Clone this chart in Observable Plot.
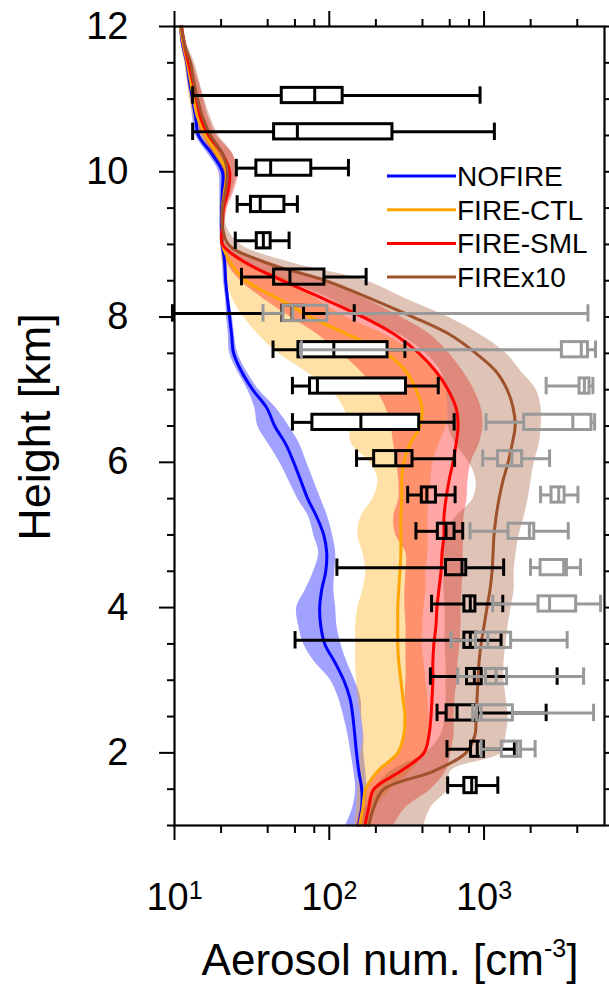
<!DOCTYPE html>
<html><head><meta charset="utf-8">
<script src="https://cdn.jsdelivr.net/npm/d3@7"></script>
<script src="https://cdn.jsdelivr.net/npm/@observablehq/plot@0.6"></script>
<style>body{margin:0;background:#fff;}</style>
</head><body><div id="chart"></div>
<script>
// ---------- data ----------
const heights = [1,1.25,1.5,1.75,2,2.25,2.5,2.75,3,3.25,3.5,3.75,4,4.25,4.5,4.75,5,5.25,5.5,5.75,6,6.25,6.5,6.75,7,7.25,7.5,7.75,8,8.25,8.5,8.75,9,9.25,9.5,9.75,10,10.25,10.5,10.75,11,11.25,11.5,11.75,12];

const nofireMean = [155,162,162,155,150,146,142,136,124,108.5,93.5,88.1,86.7,89.4,94.9,96.3,92.1,82.9,72.5,65.4,58.9,52.3,44.4,39.4,32.0,27.1,24.1,23.4,22.7,22.0,21.4,21.1,20.4,20.2,20.2,20.4,20.4,17.4,14.3,13.7,13.1,12.5,12.0,11.3,10.9];
const nofireLo   = [128,142,148,144,138,132,124,115,102,80.5,68.3,63.4,61.6,70.4,79.3,85.4,79.3,73.6,62.5,54.7,47.8,40.6,34.5,33.0,29.7,25.6,22.7,22.3,21.7,21.4,20.7,20.4,19.9,19.6,19.6,19.6,19.3,16.4,13.7,13.1,12.7,12.1,11.8,11.1,10.8];
const nofireHi   = [162,172,175,172,167,167,162,160,146,130,119,112,110,107,108.5,110,105,97.8,88.1,79.3,71.4,64.4,54.7,45.1,35.0,29.3,25.6,24.4,23.7,22.7,22.0,21.7,21.1,20.7,20.7,21.4,21.7,18.4,15.2,14.3,13.5,12.9,12.3,11.4,11.1];

const ctlMean = [157,165,172,206,277,303,308,299,290,281,277,277,277,281,286,290,290,290,294,294,303,332,386,397,363,313,232,134,75.9,47.1,28.8,23.0,20.4,20.4,20.4,21.1,21.7,18.7,15.9,14.1,13.3,12.7,12.1,11.4,10.9];
const ctlLo   = [146,150,153,155,160,165,160,153,150,148,148,148,153,165,172,165,153,160,191,206,183,140,134,124,102,70.4,47.1,35.0,28.0,23.7,21.7,20.4,19.9,19.9,19.9,20.2,20.4,17.4,14.7,13.3,12.5,12.1,11.6,11.1,10.8];
const ctlHi   = [186,200,250,337,415,441,441,434,421,409,397,403,409,421,421,434,434,434,441,454,467,511,568,585,568,489,363,232,128,82.9,56.3,28.8,21.4,21.1,21.4,22.3,23.0,20.4,17.1,15.2,14.1,13.5,12.7,11.8,11.3];

const smlMean = [170,180,194,290,409,441,454,461,467,467,474,489,496,511,527,535,551,551,568,594,630,659,679,659,585,489,380,269,165,92.1,50.0,28.8,20.4,20.4,20.7,22.3,22.7,20.4,16.6,14.7,13.9,13.1,12.3,11.6,11.1];
const smlLo   = [150,160,172,215,281,303,308,308,313,313,313,313,308,308,313,313,269,261,281,281,273,261,250,232,200,160,119,85.4,56.3,37.7,26.7,21.7,19.9,19.9,19.9,21.1,20.4,17.6,15.2,13.7,12.9,12.3,11.8,11.1,10.8];
const smlHi   = [261,313,454,568,611,640,640,649,669,679,699,710,710,720,731,731,742,742,776,788,824,928,985,957,861,731,594,454,290,172,88.1,41.8,21.4,21.1,22.0,24.4,25.9,23.7,18.7,16.6,15.4,14.3,13.1,12.0,11.3];

const x10Mean = [180,194,225,474,764,874,887,901,914,928,957,1000,1045,1093,1126,1143,1160,1196,1250,1327,1430,1518,1588,1541,1409,1196,887,611,348,186,94.9,38.8,22.3,20.4,20.4,21.4,22.0,20.4,17.1,15.2,14.1,13.3,12.7,11.6,11.1];
const x10Lo   = [160,172,194,250,421,527,560,568,568,568,560,560,560,551,551,543,551,659,849,887,800,659,585,585,568,527,421,290,160,102,52.3,26.7,20.4,19.9,19.9,20.4,20.4,17.9,15.4,14.0,13.1,12.5,12.0,11.3,10.9];
const x10Hi   = [409,454,585,611,1288,1388,1430,1388,1347,1347,1388,1430,1496,1564,1564,1611,1685,1815,1927,2014,2107,2270,2338,2338,2170,1735,1388,957,585,314,172,56.3,26.7,21.7,21.7,23.7,25.2,23.7,19.3,17.1,15.6,14.5,13.5,12.1,11.4];

const seriesNames = ["NOFIRE","FIRE-CTL","FIRE-SML","FIREx10"];

// black box plots
const blackHeights = [11.05,10.55,10.05,9.55,9.05,8.55,8.05,7.55,7.05,6.55,6.05,5.55,5.05,4.55,4.05,3.55,3.05,2.55,2.05,1.55];
const blackMin = [13.1,13.1,25.1,25.4,24.7,27.1,9.7,43.3,57.8,57.8,150,321,363,112,458,60.1,450,497,576,582];
const blackQ1  = [49.3,44,33.8,31.2,34,44,49.8,63.2,75.1,77.8,195,396,503,568,746,746,776,573,824,746];
const blackMed = [80.5,62.2,41.8,35.8,37.5,55.7,57.5,107,83.8,160,269,427,568,720,815,815,866,669,904,832];
const blackQ3  = [122,256,76.5,51.3,41.8,93,68.7,238,313,381,345,489,645,767,879,887,966,910,998,897];
const blackMax = [942,1166,133,62.2,55,173,145,308,506,641,645,650,728,1338,1321,1288,2966,2518,1571,1227];
const blackFilledHeights = [7.55,7.05,6.55];

// gray box plots
const grayHeights = [8.05,7.55,7.05,6.55,6.05,5.55,5.05,4.55,4.05,3.55,3.05,2.55,2.05];
const grayMin = [37.3,66,2518,1030,980,2318,812,1995,1138,611,676,845,957];
const grayQ1  = [50.5,3183,4140,1817,1230,2728,1438,2318,2248,887,1030,901,1302];
const grayMed = [58,4245,4450,3745,1513,3036,1962,3270,2650,1057,1196,957,1636];
const grayQ3  = [97.3,4690,4800,4945,1761,3312,2110,3430,3936,1496,1409,1535,1735];
const grayMax = [4690,5250,5050,5180,2650,4040,3500,4200,5662,3444,4395,5100,2138];

// ticks
const xMajor = [10,100,1000];
const xMinor = [20,40,60,80,200,400,600,800,2000,4000];
const yMajor = [2,4,6,8,10,12];
const yMinor = [1,1.5,2.5,3,3.5,4.5,5,5.5,6.5,7,7.5,8.5,9,9.5,10.5,11,11.5];

// ---------- build ----------
const seriesColors = ["#0000ff","#ffa500","#ff0000","#a0522d"];
const bandOpac = [0.37,0.35,0.35,0.35];
const means = [nofireMean, ctlMean, smlMean, x10Mean];
const los = [nofireLo, ctlLo, smlLo, x10Lo];
const his = [nofireHi, ctlHi, smlHi, x10Hi];
const profiles = seriesNames.map((name,i)=>heights.map((h,j)=>({name, h, mean: means[i][j], lo: los[i][j], hi: his[i][j]})));

const black = blackHeights.map((h,i)=>({h, min: blackMin[i], q1: blackQ1[i], med: blackMed[i], q3: blackQ3[i], max: blackMax[i]}));
const gray = grayHeights.map((h,i)=>({h, min: grayMin[i], q1: grayQ1[i], med: grayMed[i], q3: grayQ3[i], max: grayMax[i]}));

const BH = 0.105, CH = 0.12, BW = 3;
function boxMarks(data, color, filledHs) {
  const marks = [];
  if (filledHs) marks.push(Plot.rect(data.filter(d=>filledHs.includes(d.h)), {x1:"q1", x2:"q3", y1:d=>d.h-BH, y2:d=>d.h+BH, fill:"white"}));
  marks.push(
    Plot.ruleY(data, {y:"h", x1:"min", x2:"q1", stroke:color, strokeWidth:BW}),
    Plot.ruleY(data, {y:"h", x1:"q3", x2:"max", stroke:color, strokeWidth:BW}),
    Plot.rect(data, {x1:"q1", x2:"q3", y1:d=>d.h-BH, y2:d=>d.h+BH, fill:"none", stroke:color, strokeWidth:BW}),
    Plot.ruleX(data, {x:"med", y1:d=>d.h-BH, y2:d=>d.h+BH, stroke:color, strokeWidth:BW}),
    Plot.ruleX(data, {x:"min", y1:d=>d.h-CH, y2:d=>d.h+CH, stroke:color, strokeWidth:BW}),
    Plot.ruleX(data, {x:"max", y1:d=>d.h-CH, y2:d=>d.h+CH, stroke:color, strokeWidth:BW})
  );
  return marks;
}

const blank = () => "";

const plot = Plot.plot({
  width: 609, height: 984,
  marginLeft: 174, marginRight: 5, marginTop: 26, marginBottom: 159,
  style: {fontFamily: "'Liberation Sans', Arial, Helvetica, sans-serif", color: "black", background: "white"},
  x: {type: "log", domain: [10, 6000]},
  y: {domain: [1, 12]},
  marks: [
    ...profiles.map((p,i)=>Plot.areaX(p, {y:"h", x1:"lo", x2:"hi", fill: seriesColors[i], fillOpacity: bandOpac[i], curve:"catmull-rom"})),
    ...profiles.map((p,i)=>Plot.lineX(p, {y:"h", x:"mean", stroke: seriesColors[i], strokeWidth: 3, curve:"catmull-rom"})),
    ...boxMarks(black, "black", blackFilledHeights),
    ...boxMarks(gray, "#999999", null),
    Plot.axisX(xMajor, {anchor:"bottom", tickSize:15, tickPadding:43, strokeWidth:2, fontSize:38, label:null,
      tickFormat: d => "10|" + Math.round(Math.log10(d))}),
    Plot.axisX(xMinor, {anchor:"bottom", tickSize:8, strokeWidth:2, tickFormat: blank, label:null}),
    Plot.axisX(xMajor, {anchor:"top", tickSize:16, strokeWidth:2, tickFormat: blank, label:null}),
    Plot.axisX(xMinor, {anchor:"top", tickSize:8, strokeWidth:2, tickFormat: blank, label:null}),
    Plot.axisY(yMajor, {anchor:"left", tickSize:15, tickPadding:31, strokeWidth:2, fontSize:38, label:null, tickFormat: d => String(d)}),
    Plot.axisY(yMinor, {anchor:"left", tickSize:7, strokeWidth:2, tickFormat: blank, label:null}),
    Plot.axisY(yMajor, {anchor:"right", tickSize:15, strokeWidth:2, tickFormat: blank, label:null}),
    Plot.axisY(yMinor, {anchor:"right", tickSize:7, strokeWidth:2, tickFormat: blank, label:null}),
    Plot.frame({stroke:"black", strokeWidth:2.2})
  ]
});
document.getElementById("chart").append(plot);

// ---------- superscripts on x tick labels ----------
const svg = d3.select(plot);
svg.selectAll("text").each(function() {
  const t = d3.select(this);
  if (t.selectAll("tspan").size() === 0) {
    const s = t.text();
    if (/^10\|\d$/.test(s)) {
      const exp = s.split("|")[1];
      t.text("");
      t.append("tspan").text("10");
      t.append("tspan").attr("font-size", 25).attr("dy", "-0.45em").text(exp);
    }
  }
});
svg.selectAll("tspan").each(function() {
  const t = d3.select(this);
  if (/^10\|\d$/.test(t.text())) {
    const exp = t.text().split("|")[1];
    t.text("10");
    d3.select(this.parentNode).append("tspan").attr("font-size", 25).attr("dy", "-0.45em").text(exp);
  }
});

// ---------- titles & legend ----------
const ff = "'Liberation Sans', Arial, Helvetica, sans-serif";
const xt = svg.append("text").attr("x", 390).attr("y", 975).attr("text-anchor","middle")
  .attr("font-family", ff).attr("font-size", 44).attr("fill","black");
xt.append("tspan").text("Aerosol num. [cm");
xt.append("tspan").attr("font-size", 25).attr("dy", -18).text("-3");
xt.append("tspan").attr("dy", 18).text("]");

svg.append("text").attr("transform","translate(50,427) rotate(-90)").attr("text-anchor","middle")
  .attr("font-family", ff).attr("font-size", 45).attr("fill","black").text("Height [km]");

const lg = svg.append("g");
seriesNames.forEach((name,i)=>{
  const y = 176 + i*33.7;
  lg.append("line").attr("x1",387).attr("x2",456).attr("y1",y).attr("y2",y)
    .attr("stroke", seriesColors[i]).attr("stroke-width",3);
  lg.append("text").attr("x",457).attr("y",y).attr("dy","0.36em").attr("text-anchor","start")
    .attr("font-family", ff).attr("font-size",28).attr("fill","black").text(name);
});
</script>
</body></html>
